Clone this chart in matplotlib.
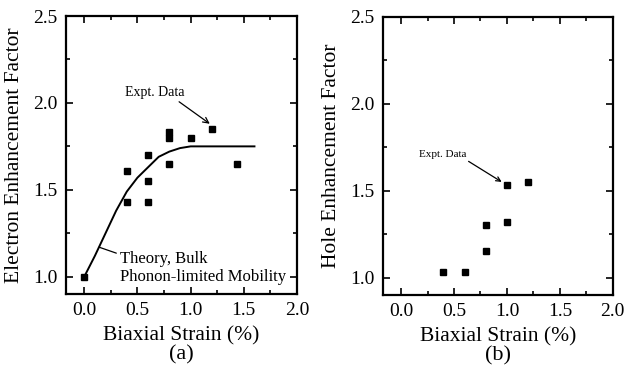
import matplotlib
matplotlib.use('Agg')
import matplotlib.pyplot as plt
from matplotlib.ticker import MultipleLocator

plt.rcParams['font.family'] = ['Liberation Serif', 'DejaVu Serif']

# ── (a) electron data ────────────────────────────────────────────────────────
elec_strain = [0.0, 0.4, 0.4, 0.6, 0.6, 0.6, 0.8, 0.8, 0.8, 1.0, 1.2, 1.44]
elec_factor = [1.00, 1.61, 1.43, 1.70, 1.55, 1.43, 1.83, 1.80, 1.65, 1.80, 1.85, 1.65]

# theory curve
theory_strain = [0.0, 0.1, 0.2, 0.3, 0.4, 0.5, 0.6, 0.7, 0.8, 0.9, 1.0, 1.2, 1.4, 1.6]
theory_factor = [1.00, 1.12, 1.25, 1.38, 1.49, 1.57, 1.63, 1.69, 1.72, 1.74, 1.75, 1.75, 1.75, 1.75]

# ── (b) hole data ────────────────────────────────────────────────────────────
hole_strain = [0.4, 0.6, 0.8, 0.8, 1.0, 1.0, 1.2]
hole_factor = [1.03, 1.03, 1.30, 1.15, 1.53, 1.32, 1.55]

XTICKS = [0.0, 0.5, 1.0, 1.5, 2.0]
YTICKS = [1.0, 1.5, 2.0, 2.5]


def setup_axes(ax, ylabel, panel):
    ax.set_xlim(-0.17, 2.0)
    ax.set_ylim(0.9, 2.5)
    ax.set_xticks(XTICKS)
    ax.set_yticks(YTICKS)
    ax.xaxis.set_minor_locator(MultipleLocator(0.25))
    ax.yaxis.set_minor_locator(MultipleLocator(0.25))
    ax.tick_params(which='both', direction='in', top=True, right=True,
                   width=1.2, labelsize=14, pad=6)
    ax.tick_params(which='major', length=5)
    ax.tick_params(which='minor', length=3)
    for s in ax.spines.values():
        s.set_linewidth(1.6)
    ax.set_xlabel('Biaxial Strain (%)', fontsize=15.5, labelpad=5)
    ax.set_ylabel(ylabel, fontsize=15.5, labelpad=7)
    ax.text(0.5, -0.22, panel, transform=ax.transAxes, ha='center',
            va='center', fontsize=16)


fig = plt.figure(figsize=(6.24, 3.81), dpi=100)
ax1 = fig.add_axes([0.106, 0.228, 0.370, 0.730])
ax2 = fig.add_axes([0.614, 0.226, 0.368, 0.730])

setup_axes(ax1, 'Electron Enhancement Factor', '(a)')
ax1.plot(theory_strain, theory_factor, '-', color='black', lw=1.4)
ax1.plot(elec_strain, elec_factor, 's', color='black', markersize=5)
ax1.annotate('Expt. Data', xy=(1.18, 1.88), xytext=(0.38, 2.06),
             fontsize=10, va='center',
             arrowprops=dict(arrowstyle='->', color='black', lw=0.9,
                             shrinkA=0, shrinkB=0, relpos=(0.85, 0.0)))
ax1.annotate('Theory, Bulk', xy=(0.14, 1.17), xytext=(0.34, 1.10),
             fontsize=12, va='center',
             arrowprops=dict(arrowstyle='-', color='black', lw=0.9,
                             shrinkA=1, shrinkB=0, relpos=(0.0, 0.8)))
ax1.text(0.34, 1.0, 'Phonon-limited Mobility', fontsize=12, va='center')

setup_axes(ax2, 'Hole Enhancement Factor', '(b)')
ax2.plot(hole_strain, hole_factor, 's', color='black', markersize=5)
ax2.annotate('Expt. Data', xy=(0.95, 1.55), xytext=(0.17, 1.71),
             fontsize=8, va='center',
             arrowprops=dict(arrowstyle='->', color='black', lw=0.9,
                             shrinkA=0, shrinkB=0, relpos=(0.95, 0.0)))

fig.savefig('out.png', dpi=100)
